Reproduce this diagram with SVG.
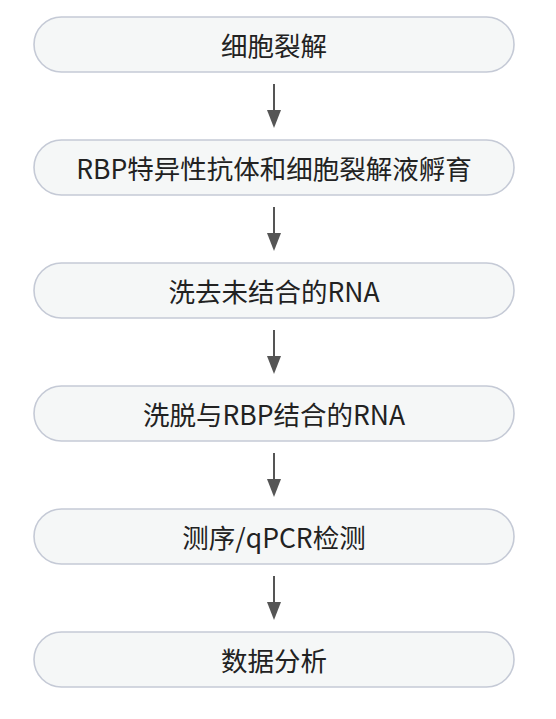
<svg xmlns="http://www.w3.org/2000/svg" width="556" height="719" viewBox="0 0 556 719">
<style>
.box{fill:#f5f7f7;stroke:#c5cad6;stroke-width:1.6}
.lbl{font-family:"Noto Sans CJK SC","Noto Sans",sans-serif;font-size:26.5px;fill:#222;text-anchor:middle;dominant-baseline:central}
.conn{stroke:#555;stroke-width:2;fill:none;marker-end:url(#ah)}
</style>
<defs>
<marker id="ah" viewBox="0 0 18 14" refX="2" refY="7" markerWidth="18" markerHeight="14" markerUnits="userSpaceOnUse" orient="auto">
<path d="M0,0 L18,7 L0,14 Z" fill="#555"/>
</marker>
</defs>
<rect width="556" height="719" fill="#ffffff"/>
<g id="connectors">
<line class="conn" x1="274" y1="84" x2="274" y2="112"/>
<line class="conn" x1="274" y1="207" x2="274" y2="235"/>
<line class="conn" x1="274" y1="330" x2="274" y2="358"/>
<line class="conn" x1="274" y1="453" x2="274" y2="481"/>
<line class="conn" x1="274" y1="576" x2="274" y2="604"/>
</g>
<g id="n1"><rect class="box" x="34" y="17" width="480" height="55" rx="27.5"/><text class="lbl" x="274" y="44.5">细胞裂解</text></g>
<g id="n2"><rect class="box" x="34" y="140" width="480" height="55" rx="27.5"/><text class="lbl" x="274" y="167.5">RBP特异性抗体和细胞裂解液孵育</text></g>
<g id="n3"><rect class="box" x="34" y="263" width="480" height="55" rx="27.5"/><text class="lbl" x="274" y="290.5">洗去未结合的RNA</text></g>
<g id="n4"><rect class="box" x="34" y="386" width="480" height="55" rx="27.5"/><text class="lbl" x="274" y="413.5">洗脱与RBP结合的RNA</text></g>
<g id="n5"><rect class="box" x="34" y="509" width="480" height="55" rx="27.5"/><text class="lbl" x="274" y="536.5">测序/qPCR检测</text></g>
<g id="n6"><rect class="box" x="34" y="632" width="480" height="55" rx="27.5"/><text class="lbl" x="274" y="659.5">数据分析</text></g>
</svg>
